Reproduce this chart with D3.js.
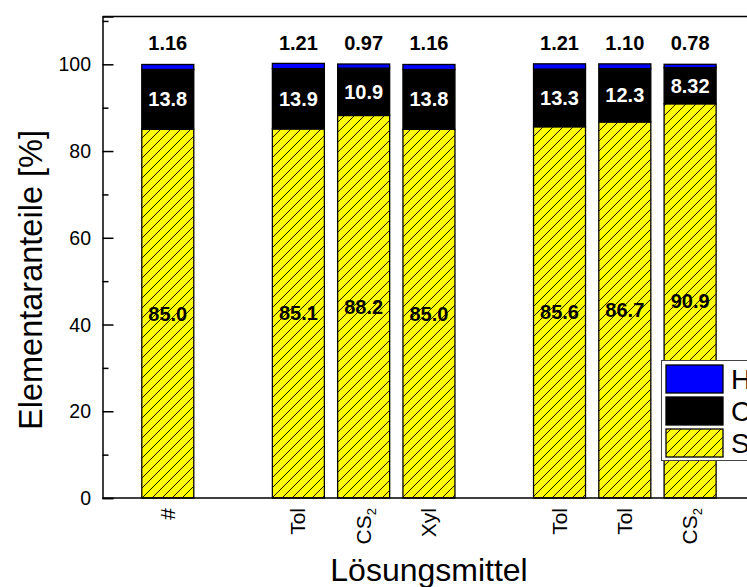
<!DOCTYPE html>
<html>
<head>
<meta charset="utf-8">
<script src="https://cdn.jsdelivr.net/npm/d3@7/dist/d3.min.js"></script>
<style>
  html, body { margin: 0; padding: 0; background: #fff; }
  svg { display: block; font-family: "Liberation Sans", Arial, sans-serif; }
</style>
</head>
<body>
<svg id="chart" width="747" height="587"></svg>
<script>
// ---- data ----
const categories = ["#", "Tol", "CS2", "Xyl", "Tol", "Tol", "CS2"];
const positions = [0, 2, 3, 4, 6, 7, 8];
const sValues = [85.0, 85.1, 88.2, 85.0, 85.6, 86.7, 90.9];
const cValues = [13.8, 13.9, 10.9, 13.8, 13.3, 12.3, 8.32];
const hValues = [1.16, 1.21, 0.97, 1.16, 1.21, 1.10, 0.78];
const sLabels = ["85.0", "85.1", "88.2", "85.0", "85.6", "86.7", "90.9"];
const cLabels = ["13.8", "13.9", "10.9", "13.8", "13.3", "12.3", "8.32"];
const hLabels = ["1.16", "1.21", "0.97", "1.16", "1.21", "1.10", "0.78"];
const yTicks = [0, 20, 40, 60, 80, 100];
const yMinorTicks = [10, 30, 50, 70, 90, 110];
const legendItems = ["H", "C", "S"];

const svg = d3.select("#chart");

const x = d3.scaleLinear().domain([-1, 10]).range([102.5, 102.5 + 11 * 65.29]);
const y = d3.scaleLinear().domain([0, 111]).range([498, 16.6]);
const barW = 52;

// hatch pattern
const defs = svg.append("defs");
const pat = defs.append("pattern")
  .attr("id", "hatch").attr("patternUnits", "userSpaceOnUse")
  .attr("width", 10).attr("height", 10);
pat.append("rect").attr("width", 10).attr("height", 10).attr("fill", "#ffff00");
pat.append("path").attr("d", "M-1,1 l2,-2 M0,10 l10,-10 M9,11 l2,-2")
  .attr("stroke", "#000").attr("stroke-width", 0.9);

const rows = categories.map((c, i) => ({
  cat: c, pos: positions[i], s: sValues[i], c: cValues[i], h: hValues[i],
  sl: sLabels[i], cl: cLabels[i], hl: hLabels[i]
}));

// bars
const g = svg.append("g");
rows.forEach(d => {
  const cx = x(d.pos);
  g.append("rect").attr("x", cx - barW / 2).attr("y", y(d.s))
    .attr("width", barW).attr("height", y(0) - y(d.s))
    .attr("fill", "url(#hatch)").attr("stroke", "#000").attr("stroke-width", 1.3);
  g.append("rect").attr("x", cx - barW / 2).attr("y", y(d.s + d.c))
    .attr("width", barW).attr("height", y(d.s) - y(d.s + d.c))
    .attr("fill", "#000").attr("stroke", "#000").attr("stroke-width", 1.3);
  g.append("rect").attr("x", cx - barW / 2).attr("y", y(d.s + d.c + d.h))
    .attr("width", barW).attr("height", y(d.s + d.c) - y(d.s + d.c + d.h))
    .attr("fill", "#0000ff").attr("stroke", "#000").attr("stroke-width", 1.3);

  g.append("text").attr("x", cx).attr("y", y(d.s / 2))
    .attr("text-anchor", "middle").attr("dominant-baseline", "central")
    .attr("font-size", 20).attr("font-weight", "bold").attr("fill", "#000")
    .text(d.sl);
  g.append("text").attr("x", cx).attr("y", y(d.s + d.c / 2))
    .attr("text-anchor", "middle").attr("dominant-baseline", "central")
    .attr("font-size", 20).attr("font-weight", "bold").attr("fill", "#fff")
    .text(d.cl);
  g.append("text").attr("x", cx).attr("y", 49.5)
    .attr("text-anchor", "middle")
    .attr("font-size", 20).attr("font-weight", "bold").attr("fill", "#000")
    .text(d.hl);
});

// axes frame
const axisG = svg.append("g");
axisG.append("line").attr("x1", x(-1)).attr("x2", 760).attr("y1", y(0)).attr("y2", y(0))
  .attr("stroke", "#000").attr("stroke-width", 1.5);
axisG.append("line").attr("x1", x(-1)).attr("x2", 760).attr("y1", y(111)).attr("y2", y(111))
  .attr("stroke", "#000").attr("stroke-width", 1.5);

const yAxis = d3.axisRight(y).tickValues(yTicks).tickSize(11).tickFormat("");
const yg = svg.append("g").attr("transform", `translate(${x(-1)},0)`).call(yAxis);
yg.select(".domain").attr("stroke-width", 1.5);
yg.selectAll(".tick line").attr("stroke-width", 1.5);
const yMinor = d3.axisRight(y).tickValues(yMinorTicks).tickSize(6).tickFormat("");
const ym = svg.append("g").attr("transform", `translate(${x(-1)},0)`).call(yMinor);
ym.select(".domain").remove();
ym.selectAll(".tick line").attr("stroke-width", 1.5);

// y tick labels
svg.append("g").selectAll("text").data(yTicks).join("text")
  .attr("x", 91).attr("y", d => y(d))
  .attr("text-anchor", "end").attr("dominant-baseline", "central")
  .attr("font-size", 19.5).attr("fill", "#000")
  .text(d => d);

// x tick labels (rotated)
rows.forEach(d => {
  const cx = x(d.pos);
  const t = svg.append("text")
    .attr("transform", `translate(${cx + 7},508) rotate(-90)`)
    .attr("text-anchor", "end").attr("font-size", 21).attr("fill", "#000");
  if (d.cat === "CS2") {
    t.append("tspan").text("CS");
    t.append("tspan").attr("font-size", 13).attr("dy", 5).text("2");
  } else {
    t.text(d.cat);
  }
});

// axis titles
svg.append("text").attr("x", 429).attr("y", 581)
  .attr("text-anchor", "middle").attr("font-size", 32).attr("fill", "#000")
  .text("Lösungsmittel");
svg.append("text").attr("transform", "translate(42,280) rotate(-90)")
  .attr("text-anchor", "middle").attr("font-size", 32.5).attr("fill", "#000")
  .text("Elementaranteile [%]");

// legend
const lg = svg.append("g");
lg.append("rect").attr("x", 661.5).attr("y", 360.5).attr("width", 120).attr("height", 100)
  .attr("fill", "#fff").attr("stroke", "#444").attr("stroke-width", 1);
const fills = { H: "#0000ff", C: "#000", S: "url(#hatch)" };
legendItems.forEach((k, i) => {
  const yy = 365 + i * 32;
  lg.append("rect").attr("x", 666).attr("y", yy).attr("width", 57).attr("height", 28)
    .attr("fill", fills[k]).attr("stroke", "#000").attr("stroke-width", 1.3);
  lg.append("text").attr("x", 731).attr("y", yy + 14)
    .attr("dominant-baseline", "central").attr("font-size", 28).attr("fill", "#000")
    .text(k);
});
</script>
</body>
</html>
